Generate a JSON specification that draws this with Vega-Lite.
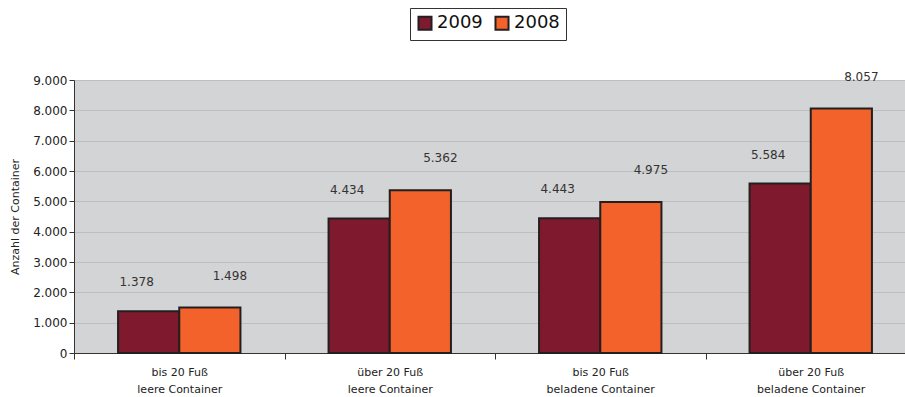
{
  "$schema": "https://vega.github.io/schema/vega-lite/v6.json",
  "width": 831,
  "height": 273,
  "autosize": "none",
  "padding": {"left": 74, "top": 80, "right": 0, "bottom": 44},
  "background": "white",
  "config": {
    "locale": {"number": {"decimal": ",", "thousands": ".", "grouping": [3], "currency": ["", " €"]}},
    "font": "DejaVu Sans",
    "view": {"fill": "#d3d4d6", "stroke": null},
    "axis": {"labelColor": "#222", "titleColor": "#222", "labelFont": "DejaVu Sans", "titleFont": "DejaVu Sans"}
  },
  "data": {
    "values": [
      {"kategorie": "bis 20 Fuß|leere Container", "jahr": "2009", "anzahl": 1378},
      {"kategorie": "bis 20 Fuß|leere Container", "jahr": "2008", "anzahl": 1498},
      {"kategorie": "über 20 Fuß|leere Container", "jahr": "2009", "anzahl": 4434},
      {"kategorie": "über 20 Fuß|leere Container", "jahr": "2008", "anzahl": 5362},
      {"kategorie": "bis 20 Fuß|beladene Container", "jahr": "2009", "anzahl": 4443},
      {"kategorie": "bis 20 Fuß|beladene Container", "jahr": "2008", "anzahl": 4975},
      {"kategorie": "über 20 Fuß|beladene Container", "jahr": "2009", "anzahl": 5584},
      {"kategorie": "über 20 Fuß|beladene Container", "jahr": "2008", "anzahl": 8057}
    ]
  },
  "encoding": {
    "x": {
      "field": "kategorie", "type": "nominal", "sort": null,
      "scale": {"paddingInner": 0, "paddingOuter": 0, "range": [0, 842]},
      "axis": {
        "title": null, "labelAngle": 0, "labelExpr": "split(datum.label, '|')",
        "labelFontSize": 11, "labelLineHeight": 17, "labelPadding": 7,
        "ticks": true, "tickBand": "extent", "tickSize": 6, "tickColor": "#333",
        "domainColor": "#333", "domainWidth": 1.2
      }
    },
    "xOffset": {"field": "jahr", "type": "nominal", "sort": ["2009", "2008"], "scale": {"paddingInner": 0, "paddingOuter": 0.72}},
    "y": {
      "field": "anzahl", "type": "quantitative",
      "scale": {"domain": [0, 9000]},
      "axis": {
        "title": "Anzahl der Container", "titleFontSize": 11, "titleFontWeight": "normal", "titlePadding": 12,
        "labelFontSize": 12, "format": ",d", "values": [0,1000,2000,3000,4000,5000,6000,7000,8000,9000],
        "gridColor": "#bdbec0", "gridWidth": 1, "domainColor": "#333", "tickColor": "#333", "tickSize": 5
      }
    }
  },
  "layer": [
    {
      "mark": {"type": "bar", "stroke": "#231f20", "strokeWidth": 2},
      "encoding": {
        "color": {
          "field": "jahr", "type": "nominal",
          "scale": {"domain": ["2009", "2008"], "range": ["#7f1a2e", "#f2622a"]},
          "legend": {
            "title": null, "orient": "none", "legendX": 336, "legendY": -72, "direction": "horizontal",
            "labelFontSize": 18, "labelColor": "#111", "symbolType": "square", "symbolSize": 170,
            "symbolStrokeColor": "#231f20", "symbolStrokeWidth": 2, "strokeColor": "#333",
            "padding": 6, "columnPadding": 8, "labelOffset": 3, "fillColor": "white"
          }
        }
      }
    },
    {
      "transform": [{"filter": "datum.jahr == '2009'"}],
      "mark": {"type": "text", "fontSize": 12, "color": "#333", "dx": -12, "dy": -22, "baseline": "bottom"},
      "encoding": {"text": {"field": "anzahl", "type": "quantitative", "format": ",d"}}
    },
    {
      "transform": [{"filter": "datum.jahr == '2008'"}],
      "mark": {"type": "text", "fontSize": 12, "color": "#333", "dx": 20, "dy": -25, "baseline": "bottom"},
      "encoding": {"text": {"field": "anzahl", "type": "quantitative", "format": ",d"}}
    }
  ]
}
